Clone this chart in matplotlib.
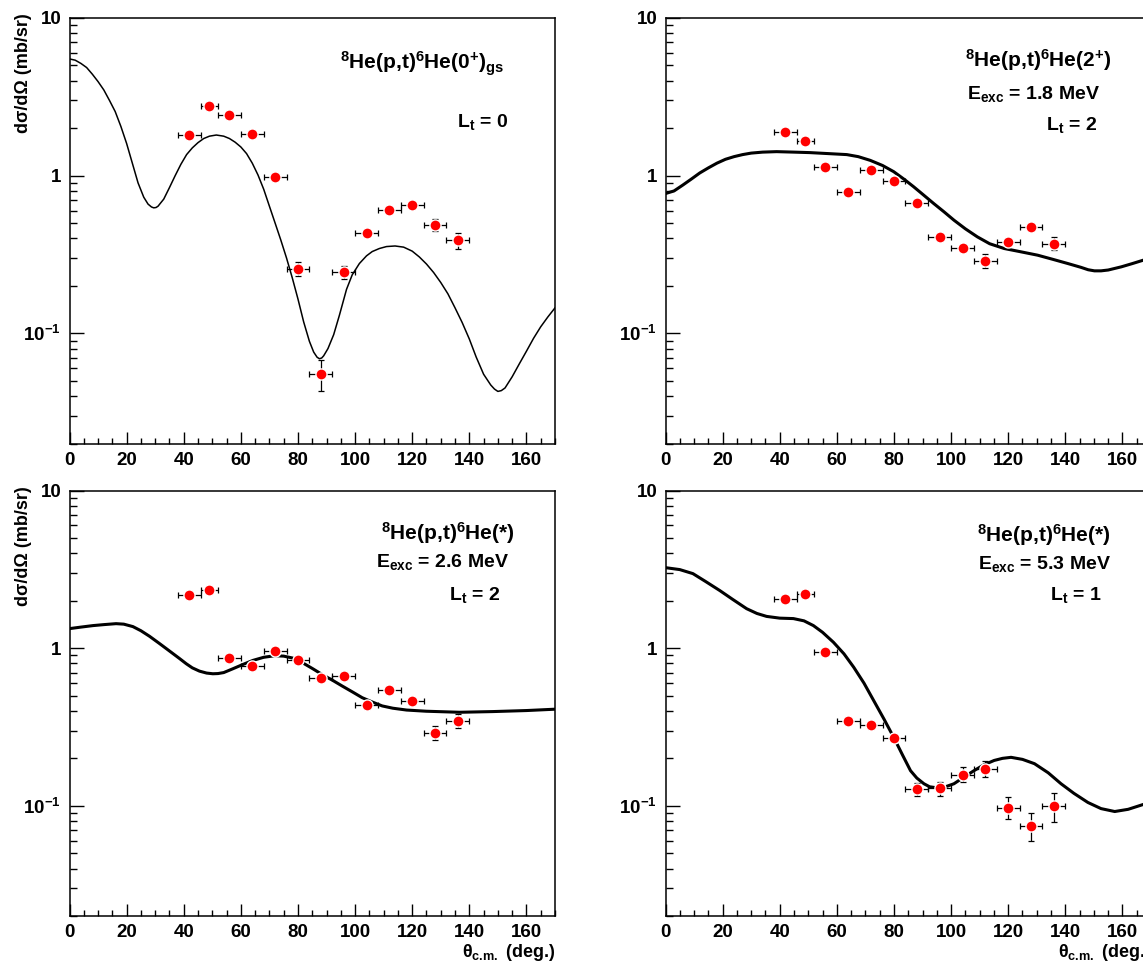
import numpy as np
import matplotlib
matplotlib.use('Agg')
import matplotlib.pyplot as plt
from matplotlib.ticker import FixedLocator, LogLocator, NullFormatter, MultipleLocator

# шрифт в стиле ROOT: жирный Helvetica -> Liberation Sans
plt.rcParams['font.family'] = ['Liberation Sans', 'DejaVu Sans']
plt.rcParams['font.weight'] = 'bold'
plt.rcParams['axes.labelweight'] = 'bold'
plt.rcParams['mathtext.fontset'] = 'custom'
plt.rcParams['mathtext.rm'] = 'Liberation Sans:bold'
plt.rcParams['mathtext.it'] = 'Liberation Sans:bold'
plt.rcParams['mathtext.bf'] = 'Liberation Sans:bold'
plt.rcParams['mathtext.sf'] = 'Liberation Sans:bold'

# экспериментальные углы (одинаковые для всех панелей)
theta_exp = [42, 49, 56, 64, 72, 80, 88, 96, 104, 112, 120, 128, 136]
theta_err = [4, 3, 4, 4, 4, 4, 4, 4, 4, 4, 4, 4, 4]

# 6He(0+) gs, L=0
gs_exp = [1.80, 2.77, 2.42, 1.85, 0.98, 0.257, 0.055, 0.245, 0.433, 0.607, 0.652, 0.485, 0.39]
gs_lo = [0.06, 0.08, 0.07, 0.06, 0.03, 0.027, 0.012, 0.023, 0.015, 0.02, 0.02, 0.042, 0.045]
gs_hi = [0.06, 0.08, 0.07, 0.06, 0.03, 0.026, 0.013, 0.022, 0.015, 0.02, 0.02, 0.045, 0.045]
gs_theta = [0, 2, 4, 6, 8, 10, 12, 14, 16, 18, 20, 22, 24, 26, 27.5, 28.7, 29.5, 30.3, 31,
            33, 35, 37, 39, 41, 43, 45, 47, 49, 51.4, 54, 56, 58, 60, 62, 64, 66, 68, 70,
            72, 74, 76, 78, 80, 82, 84, 85.5, 86.7, 87.5, 88.3, 89, 90.5, 92.5, 94.5, 97,
            99, 101.5, 104, 106, 108.5, 111, 114, 117, 120, 122.5, 125, 127.5, 130, 132.5,
            135, 137.5, 140, 142.4, 145, 147.5, 148.8, 150, 151.2, 152.5, 155, 157.5, 160,
            162.5, 165, 167.5, 170]
gs_calc = [5.5, 5.4, 5.15, 4.85, 4.4, 3.95, 3.5, 3.0, 2.55, 2.05, 1.6, 1.2, 0.9, 0.73,
           0.66, 0.633, 0.625, 0.628, 0.64, 0.71, 0.84, 1.0, 1.18, 1.36, 1.5, 1.62, 1.72,
           1.78, 1.81, 1.78, 1.72, 1.63, 1.52, 1.38, 1.2, 1.01, 0.82, 0.64, 0.5, 0.39, 0.3,
           0.225, 0.165, 0.118, 0.089, 0.076, 0.0705, 0.069, 0.0697, 0.072, 0.08, 0.098,
           0.13, 0.19, 0.235, 0.277, 0.31, 0.33, 0.345, 0.355, 0.358, 0.352, 0.332, 0.305,
           0.275, 0.243, 0.21, 0.178, 0.145, 0.117, 0.092, 0.0707, 0.055, 0.047, 0.0443,
           0.0428, 0.0433, 0.045, 0.053, 0.064, 0.077, 0.093, 0.11, 0.127, 0.145]

# 6He(2+) 1.8 MeV, L=2
e18_exp = [1.89, 1.66, 1.14, 0.786, 1.08, 0.927, 0.672, 0.407, 0.348, 0.287, 0.382, 0.473, 0.371]
e18_lo = [0.05, 0.05, 0.04, 0.03, 0.04, 0.035, 0.025, 0.02, 0.02, 0.029, 0.02, 0.025, 0.035]
e18_hi = [0.05, 0.05, 0.04, 0.03, 0.04, 0.035, 0.025, 0.02, 0.02, 0.033, 0.02, 0.025, 0.04]
e18_theta = [0, 3, 6, 9, 12, 15, 18, 21, 24, 27, 30, 34, 38.9, 45, 50.6, 57, 63.5, 67.5,
             71.7, 76, 79.9, 83.5, 86.9, 90.5, 93.9, 97.5, 101, 105, 109.2, 113.5, 118.6,
             124, 130.3, 135.5, 140.9, 145.5, 148, 150.2, 152.5, 155, 159.6, 163.5, 167.3, 170]
e18_calc = [0.77, 0.8, 0.87, 0.95, 1.04, 1.12, 1.2, 1.27, 1.32, 1.36, 1.39, 1.41, 1.42,
            1.41, 1.40, 1.38, 1.36, 1.32, 1.25, 1.16, 1.06, 0.95, 0.85, 0.75, 0.666, 0.59,
            0.522, 0.46, 0.409, 0.37, 0.345, 0.33, 0.313, 0.295, 0.277, 0.262, 0.253, 0.249,
            0.249, 0.252, 0.264, 0.277, 0.291, 0.305]

# 6He(*) 2.6 MeV, L=2
e26_exp = [2.18, 2.34, 0.86, 0.765, 0.953, 0.836, 0.642, 0.668, 0.433, 0.541, 0.463, 0.289, 0.346]
e26_lo = [0.06, 0.06, 0.03, 0.03, 0.03, 0.03, 0.025, 0.025, 0.02, 0.02, 0.02, 0.029, 0.036]
e26_hi = [0.06, 0.06, 0.03, 0.03, 0.03, 0.03, 0.025, 0.025, 0.02, 0.02, 0.02, 0.031, 0.034]
e26_theta = [0, 4, 8.2, 12, 16.3, 19, 22.2, 25, 28, 31.5, 34, 36, 38.5, 40.9, 43, 45.5, 48,
             50.2, 52, 54, 57.2, 60.5, 64.2, 68, 71.8, 75, 78.2, 81.5, 85.2, 88.5, 92.2,
             95.5, 99.2, 102.5, 106.2, 109.5, 113.2, 118, 124.9, 136.6, 148.2, 160, 170]
e26_calc = [1.33, 1.36, 1.39, 1.41, 1.43, 1.42, 1.37, 1.29, 1.19, 1.07, 0.99, 0.93, 0.86,
            0.796, 0.75, 0.715, 0.695, 0.688, 0.69, 0.70, 0.74, 0.785, 0.836, 0.875, 0.895,
            0.89, 0.865, 0.81, 0.74, 0.68, 0.624, 0.575, 0.526, 0.485, 0.454, 0.43, 0.416,
            0.405, 0.398, 0.392, 0.396, 0.402, 0.41]

# 6He(*) 5.3 MeV, L=1
e53_exp = [2.04, 2.2, 0.944, 0.347, 0.324, 0.27, 0.128, 0.129, 0.157, 0.17, 0.097, 0.0745, 0.1]
e53_lo = [0.06, 0.06, 0.03, 0.015, 0.015, 0.012, 0.012, 0.013, 0.016, 0.018, 0.015, 0.015, 0.021]
e53_hi = [0.06, 0.06, 0.03, 0.015, 0.015, 0.012, 0.012, 0.013, 0.018, 0.021, 0.016, 0.015, 0.02]
e53_theta = [0, 5, 9.6, 14, 19, 23.5, 28.4, 32, 35.4, 40, 44.8, 48.5, 51.8, 55, 58.8, 62.5,
             65.9, 69.5, 72.9, 76.5, 79.9, 83, 85.8, 88, 90.5, 92.5, 95.2, 98, 101, 104.5,
             108, 111.5, 115.1, 118, 121, 125, 129.2, 134, 138.5, 143, 147.9, 152.5, 157.3,
             162, 167.3, 170]
e53_calc = [3.24, 3.15, 2.97, 2.65, 2.32, 2.04, 1.78, 1.66, 1.59, 1.55, 1.54, 1.49, 1.39,
            1.26, 1.09, 0.92, 0.757, 0.6, 0.465, 0.355, 0.272, 0.21, 0.167, 0.15, 0.138,
            0.132, 0.13, 0.132, 0.138, 0.152, 0.167, 0.182, 0.194, 0.2, 0.203, 0.197, 0.185,
            0.162, 0.138, 0.12, 0.105, 0.096, 0.092, 0.095, 0.102, 0.107]

W, H = 1143, 964
fig = plt.figure(figsize=(W / 100, H / 100), dpi=100)

# положение осей в пикселях (правые панели обрезаны краем картинки, как в оригинале)
ax_w, ax_h = 485.5, 425.5
left_x = [69.5, 665.5]
top_y = [18, 490.5]

panels = [
    # (столбец, строка, данные, ошибки, теория, толщина линии, надписи)
    (0, 0, gs_exp, gs_lo, gs_hi, gs_theta, gs_calc, 1.1,
     [(0.727, 0.878, r'$^{8}$He(p,t)$^{6}$He(0$^{+}$)$_{gs}$', 15),
      (0.851, 0.745, r'L$_{t}$ = 0', 14)]),
    (1, 0, e18_exp, e18_lo, e18_hi, e18_theta, e18_calc, 2.2,
     [(0.767, 0.885, r'$^{8}$He(p,t)$^{6}$He(2$^{+}$)', 15),
      (0.759, 0.809, r'E$_{exc}$ = 1.8 MeV', 14),
      (0.836, 0.737, r'L$_{t}$ = 2', 14)]),
    (0, 1, e26_exp, e26_lo, e26_hi, e26_theta, e26_calc, 2.2,
     [(0.78, 0.884, r'$^{8}$He(p,t)$^{6}$He(*)', 15),
      (0.769, 0.82, r'E$_{exc}$ = 2.6 MeV', 14),
      (0.834, 0.743, r'L$_{t}$ = 2', 14)]),
    (1, 1, e53_exp, e53_lo, e53_hi, e53_theta, e53_calc, 2.2,
     [(0.78, 0.88, r'$^{8}$He(p,t)$^{6}$He(*)', 15),
      (0.78, 0.815, r'E$_{exc}$ = 5.3 MeV', 14),
      (0.845, 0.743, r'L$_{t}$ = 1', 14)]),
]

for col, row, y_exp, y_lo, y_hi, th_calc, y_calc, lw, texts in panels:
    ax = fig.add_axes([left_x[col] / W, (H - top_y[row] - ax_h) / H, ax_w / W, ax_h / H])
    ax.set_yscale('log')
    ax.set_xlim(0, 170)
    ax.set_ylim(0.02, 10)

    # теоретическая кривая
    ax.plot(th_calc, y_calc, color='black', lw=lw, zorder=2)
    # экспериментальные точки с ошибками
    ax.errorbar(theta_exp, y_exp, xerr=theta_err, yerr=[y_lo, y_hi], fmt='none',
                ecolor='black', elinewidth=0.9, capsize=2.2, capthick=0.9, zorder=3)
    ax.plot(theta_exp, y_exp, 'o', color='red', ms=8, mec='white', mew=1.0, zorder=4)

    # оси в стиле ROOT
    ax.xaxis.set_major_locator(MultipleLocator(20))
    ax.xaxis.set_minor_locator(MultipleLocator(5))
    ax.yaxis.set_major_locator(FixedLocator([0.1, 1, 10]))
    ax.set_yticklabels([r'10$^{-1}$', '1', '10'])
    ax.yaxis.set_minor_locator(LogLocator(base=10, subs=np.arange(2, 10)))
    ax.yaxis.set_minor_formatter(NullFormatter())
    ax.tick_params(which='both', direction='in', top=False, right=False,
                   labelsize=13.5, width=1.0, pad=6)
    ax.tick_params(axis='x', which='major', length=9)
    ax.tick_params(axis='x', which='minor', length=4.5)
    ax.tick_params(axis='y', which='major', length=10)
    ax.tick_params(axis='y', which='minor', length=5)
    for s in ax.spines.values():
        s.set_linewidth(1.1)

    if col == 0:
        ax.set_ylabel('dσ/dΩ (mb/sr)', fontsize=13, loc='top')
        ax.yaxis.set_label_coords(-0.077, 1.01)
    if row == 1:
        ax.set_xlabel(r'$\theta_{c.\!m.}$ (deg.)', fontsize=13, loc='right')
        ax.xaxis.set_label_coords(1.0, -0.06)

    for tx, ty, s, fs in texts:
        ax.text(tx, ty, s, transform=ax.transAxes, ha='center', va='baseline', fontsize=fs)

fig.savefig('out.png', dpi=100)
